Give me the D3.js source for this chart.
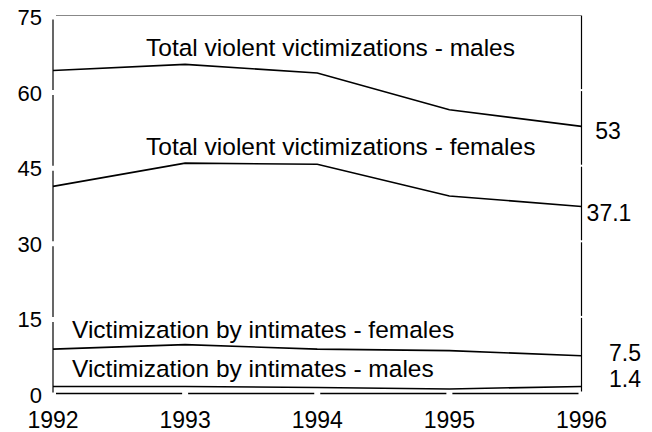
<!DOCTYPE html>
<html>
<head>
<meta charset="utf-8">
<script src="https://cdn.jsdelivr.net/npm/d3@7"></script>
<style>
  body { margin: 0; background: #fff; }
  text { font-family: "Liberation Sans", Arial, sans-serif; fill: #000; }
</style>
</head>
<body>
<svg id="chart" width="652" height="432"></svg>
<script>
// data
const years = [1992, 1993, 1994, 1995, 1996];
const yTicks = [0, 15, 30, 45, 60, 75];
const seriesNames = [
    "Total violent victimizations - males",
    "Total violent victimizations - females",
    "Victimization by intimates - females",
    "Victimization by intimates - males"
];
const maleTotal = [64.1, 65.3, 63.6, 56.3, 53];
const femaleTotal = [41.1, 45.7, 45.5, 39.2, 37.1];
const femaleIntimate = [8.8, 9.7, 8.8, 8.5, 7.5];
const maleIntimate = [1.4, 1.4, 1.2, 0.9, 1.4];
const endLabels = ["53", "37.1", "7.5", "1.4"];

// where the labels sit (layout, not data)
const namePos = [[146, 56], [146, 155], [72, 338], [72, 377]];
const endPos = [[608, 13], [609, 14], [625, 5], [625, 1]];

const series = [maleTotal, femaleTotal, femaleIntimate, maleIntimate]
    .map((values, i) => ({name: seriesNames[i], values, end: endLabels[i]}));

const svg = d3.select("#chart");
const plotLeft = 53, plotRight = 581.5, plotTop = 15.5, plotBottom = 393.5;

const x = d3.scaleLinear().domain([1992, 1996]).range([plotLeft, plotRight]);
const y = d3.scaleLinear().domain([0, 75]).range([plotBottom, plotTop]);

// axis lines are drawn as pieces between ticks, with a small gap at each tick
const gap = 3;
function pieces(stops) {
    return d3.pairs(stops).map(([a, b]) => [Math.min(a, b) + gap, Math.max(a, b) - gap]);
}
const ySegs = pieces(yTicks.map(y));
const xSegs = pieces(years.map(x));

const frame = svg.append("g").attr("fill", "none").attr("stroke-width", 1.2);
frame.selectAll("line.left").data(ySegs).join("line").attr("class", "left")
    .attr("x1", plotLeft).attr("x2", plotLeft)
    .attr("y1", d => d[0] + 1).attr("y2", d => d[1] + 2)
    .attr("stroke", "#000");
frame.selectAll("line.right").data(ySegs).join("line").attr("class", "right")
    .attr("x1", plotRight).attr("x2", plotRight)
    .attr("y1", d => d[0] - 3).attr("y2", d => d[1] + 1)
    .attr("stroke", "#000");
frame.selectAll("line.bottom").data(xSegs).join("line").attr("class", "bottom")
    .attr("y1", plotBottom).attr("y2", plotBottom)
    .attr("x1", d => d[0]).attr("x2", d => d[1])
    .attr("stroke", "#000").attr("stroke-width", 1.6);
frame.append("line")
    .attr("x1", plotLeft + 3).attr("x2", plotRight).attr("y1", plotTop).attr("y2", plotTop)
    .attr("stroke", "#888");

// tick labels
svg.append("g").selectAll("text").data(yTicks).join("text")
    .attr("x", 42).attr("y", d => y(d) + 1.5).attr("dy", "0.36em")
    .attr("text-anchor", "end").attr("font-size", 22)
    .text(d => d);

svg.append("g").selectAll("text").data(years).join("text")
    .attr("x", d => x(d)).attr("y", 428)
    .attr("text-anchor", "middle").attr("font-size", 23)
    .text(d => d);

// lines
const line = d3.line().x((d, i) => x(years[i])).y(d => y(d));

svg.append("g").selectAll("path").data(series).join("path")
    .attr("d", d => line(d.values))
    .attr("fill", "none").attr("stroke", "#000").attr("stroke-width", 1.6);

// series labels
svg.append("g").selectAll("text").data(series).join("text")
    .attr("x", (d, i) => namePos[i][0]).attr("y", (d, i) => namePos[i][1])
    .attr("font-size", 24.5)
    .text(d => d.name);

// end values
svg.append("g").selectAll("text").data(series).join("text")
    .attr("x", (d, i) => endPos[i][0])
    .attr("y", (d, i) => y(d.values[d.values.length - 1]) + endPos[i][1])
    .attr("text-anchor", "middle")
    .attr("font-size", 23)
    .text(d => d.end);
</script>
</body>
</html>
